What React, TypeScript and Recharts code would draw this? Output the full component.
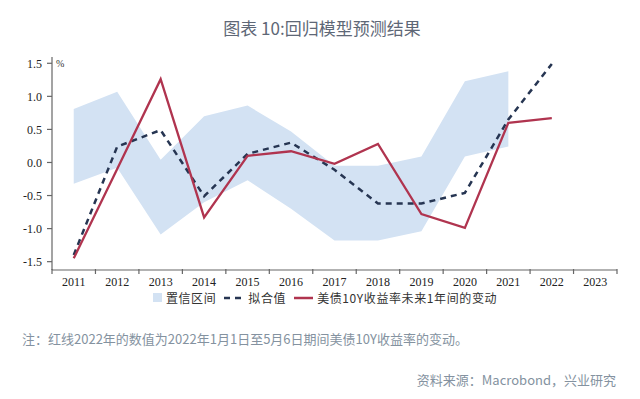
import {
  Area,
  ComposedChart,
  Label,
  Legend,
  Line,
  XAxis,
  YAxis,
} from "recharts";

const YEARS = ["2011", "2012", "2013", "2014", "2015", "2016", "2017", "2018", "2019", "2020", "2021", "2022", "2023"];
// confidence band, lower / upper edge
const BAND_LOW = [-0.32, -0.08, -1.09, -0.6, -0.27, -0.7, -1.18, -1.18, -1.04, 0.09, 0.24, null, null];
const BAND_HIGH = [0.81, 1.07, 0.04, 0.7, 0.86, 0.47, -0.05, -0.05, 0.09, 1.23, 1.38, null, null];
// 拟合值
const FITTED = [-1.4, 0.24, 0.49, -0.51, 0.13, 0.3, -0.11, -0.62, -0.62, -0.46, 0.65, 1.49, null];
// 美债10Y收益率未来1年间的变动
const ACTUAL = [-1.45, -0.1, 1.26, -0.83, 0.1, 0.17, -0.02, 0.28, -0.78, -0.99, 0.6, 0.67, null];
const Y_TICKS = [-1.5, -1, -0.5, 0, 0.5, 1, 1.5];

const data = YEARS.map((year, i) => ({
  year,
  band: BAND_LOW[i] == null ? null : [BAND_LOW[i], BAND_HIGH[i]],
  fitted: FITTED[i],
  actual: ACTUAL[i],
}));

const BAND_FILL = "#d3e2f3";
const FIT_STROKE = "#263552";
const RED = "#b0344f";
const AXIS = "#666";
const CJK = '"Noto Sans CJK SC", "Noto Sans", sans-serif';
const SERIF = '"Liberation Serif", "DejaVu Serif", serif';

const PLOT_W = 565;

// tick label at the band centre, tick mark at the band edge
const YearTick = (props: any) => {
  const { x, y, payload, index } = props;
  const half = payload?.offset || PLOT_W / YEARS.length / 2;
  return (
    <g>
      <line x1={x - half} x2={x - half} y1={y - 1} y2={y + 4} stroke={AXIS} strokeWidth={1.2} />
      {index === YEARS.length - 1 && (
        <line x1={x + half} x2={x + half} y1={y - 1} y2={y + 4} stroke={AXIS} strokeWidth={1.2} />
      )}
      <text x={x} y={y + 16} textAnchor="middle" fontFamily={SERIF} fontSize={12} fill="#222">
        {payload.value}
      </text>
    </g>
  );
};

const LegendContent = () => (
  <div
    style={{
      display: "flex",
      alignItems: "center",
      justifyContent: "center",
      fontFamily: CJK,
      fontSize: 12,
      lineHeight: "13px",
      color: "#333",
      letterSpacing: 0.6,
      paddingLeft: 10,
    }}
  >
    <span style={{ width: 9, height: 9, background: BAND_FILL, marginRight: 4 }} />
    <span style={{ marginRight: 8 }}>置信区间</span>
    <svg width={19} height={6} style={{ marginRight: 5 }}>
      <line x1={0} x2={19} y1={3} y2={3} stroke={FIT_STROKE} strokeWidth={2.5} strokeDasharray="6 5" />
    </svg>
    <span style={{ marginRight: 8 }}>拟合值</span>
    <svg width={19} height={6} style={{ marginRight: 4 }}>
      <line x1={0} x2={19} y1={3} y2={3} stroke={RED} strokeWidth={2.5} />
    </svg>
    <span>美债10Y收益率未来1年间的变动</span>
  </div>
);

export default function App() {
  return (
    <div
      style={{
        position: "absolute",
        top: 0,
        left: 0,
        width: 640,
        height: 399,
        background: "#fff",
        overflow: "hidden",
      }}
    >
      <div
        style={{
          position: "absolute",
          top: 17,
          left: 0,
          width: 644,
          textAlign: "center",
          fontFamily: CJK,
          fontSize: 17,
          lineHeight: "22px",
          color: "#5e6776",
        }}
      >
        图表 10:回归模型预测结果
      </div>

      <ComposedChart
        width={640}
        height={399}
        data={data}
        margin={{ top: 57, right: 23, bottom: 99, left: 0 }}
      >
        <XAxis
          dataKey="year"
          scale="band"
          height={30}
          tickLine={false}
          tickSize={0}
          tickMargin={0}
          axisLine={{ stroke: AXIS, strokeWidth: 1.2 }}
          tick={<YearTick />}
          interval={0}
        />
        <YAxis
          width={52}
          domain={[-1.626, 1.595]}
          ticks={Y_TICKS}
          tickFormatter={(v) => Number(v).toFixed(1)}
          tick={{ fontFamily: SERIF, fontSize: 12, fill: "#222" }}
          tickSize={5}
          tickMargin={5}
          tickLine={{ stroke: AXIS, strokeWidth: 1.2 }}
          axisLine={{ stroke: AXIS, strokeWidth: 1.2 }}
        >
          <Label
            content={({ viewBox }: any) => (
              <text
                x={viewBox.x + viewBox.width + 4}
                y={viewBox.y + 10}
                fontFamily={SERIF}
                fontSize={10}
                fill="#333"
              >
                %
              </text>
            )}
          />
        </YAxis>
        <Area
          dataKey="band"
          type="linear"
          stroke="none"
          fill={BAND_FILL}
          fillOpacity={1}
          isAnimationActive={false}
          activeDot={false}
        />
        <Line
          dataKey="fitted"
          type="linear"
          stroke={FIT_STROKE}
          strokeWidth={2.5}
          strokeDasharray="6 5"
          dot={false}
          isAnimationActive={false}
        />
        <Line
          dataKey="actual"
          type="linear"
          stroke={RED}
          strokeWidth={2.3}
          dot={false}
          isAnimationActive={false}
        />
        <Legend
          layout="horizontal"
          verticalAlign="middle"
          align="center"
          content={<LegendContent />}
          wrapperStyle={{ position: "absolute", top: 291, left: 0, width: 640, height: 13 }}
        />
      </ComposedChart>

      <div
        style={{
          position: "absolute",
          top: 330,
          left: 22,
          fontFamily: CJK,
          fontSize: 13,
          lineHeight: "18px",
          color: "#8492a0",
          whiteSpace: "nowrap",
        }}
      >
        注：红线2022年的数值为2022年1月1日至5月6日期间美债10Y收益率的变动。
      </div>
      <div
        style={{
          position: "absolute",
          top: 371,
          right: 24,
          fontFamily: CJK,
          fontSize: 13,
          lineHeight: "18px",
          color: "#8492a0",
          whiteSpace: "nowrap",
        }}
      >
        资料来源：Macrobond，兴业研究
      </div>
    </div>
  );
}
